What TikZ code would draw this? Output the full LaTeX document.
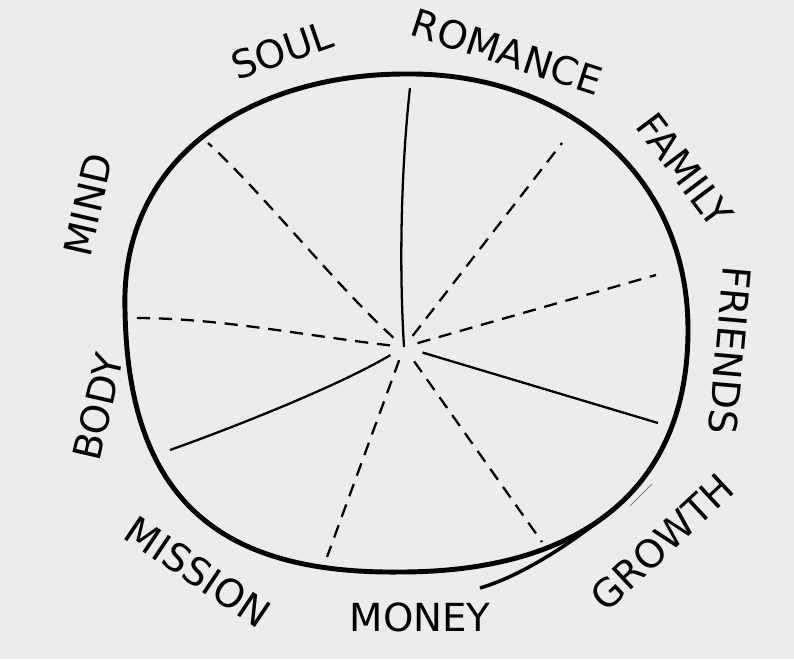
\documentclass[tikz,border=0pt]{standalone}
\usepackage{fontspec}
\setmainfont{DejaVu Sans}
\definecolor{paper}{RGB}{236,236,236}
\tikzset{
  rim/.style={line width=2.8pt, line join=round},
  spoke/.style={line width=1.3pt},
  dashspoke/.style={spoke, dash pattern=on 7.5pt off 5pt},
  area/.style={font=\fontsize{22}{26}\selectfont, inner sep=0pt},
}

\begin{document}
\begin{tikzpicture}[x=0.02cm, y=-0.02cm]

% feuille
\fill[paper] (0,0) rectangle (794,659);
\useasboundingbox (0,0) rectangle (794,659);

% la roue
\draw[rim] (405,74) .. controls (560,72) and (688,170) .. (688,330)
  .. controls (688,490) and (580,572) .. (400,572)
  .. controls (220,574) and (128,500) .. (125,310)
  .. controls (120,150) and (260,74) .. cycle;
\draw[line width=2pt] (611,511) .. controls (580,537) and (525,575) .. (480,588);
\draw[gray, line width=0.5pt] (652,484) -- (630,506);

% rayons
\coordinate (hub) at (404,347);
\coordinate (cut1) at (410,88);
\coordinate (cut2) at (562,143);
\coordinate (cut3) at (656,275);
\coordinate (cut4) at (658,423);
\coordinate (cut5) at (542,542);
\coordinate (cut6) at (327,557);
\coordinate (cut7) at (170,450);
\coordinate (cut8) at (134,318);
\coordinate (cut9) at (208,143);

\draw[spoke] (hub) .. controls (398,250) and (403,150) .. (cut1);
\draw[dashspoke, shorten <=8pt] (hub) -- (cut2);
\draw[dashspoke, shorten <=8pt] (hub) -- (cut3);
\draw[spoke, shorten <=11pt] (hub) -- (cut4);
\draw[dashspoke, shorten <=10pt] (hub) -- (cut5);
\draw[dashspoke, shorten <=8pt] (hub) -- (cut6);
\draw[spoke, shorten <=9pt] (hub) .. controls (340,385) and (240,425) .. (cut7);
\draw[dashspoke, shorten <=8pt] (hub) .. controls (300,335) and (220,318) .. (cut8);
\draw[dashspoke, shorten <=8pt] (hub) .. controls (340,290) and (260,190) .. (cut9);

% les domaines
\node[area, rotate=19] (soul) at (282,50) {SOUL};
\node[area, rotate=-18] (romance) at (507,52) {ROMANCE};
\node[area, rotate=-53] (family) at (685,170) {FAMILY};
\node[area, rotate=-95] (friends) at (730,350) {FRIENDS};
\node[area, rotate=43] (growth) at (662,542) {GROWTH};
\node[area] (money) at (420,617) {MONEY};
\node[area, rotate=-34] (mission) at (198,572) {MISSION};
\node[area, rotate=77] (body) at (98,407) {BODY};
\node[area, rotate=77] (mind) at (88,205) {MIND};

\end{tikzpicture}
\end{document}
